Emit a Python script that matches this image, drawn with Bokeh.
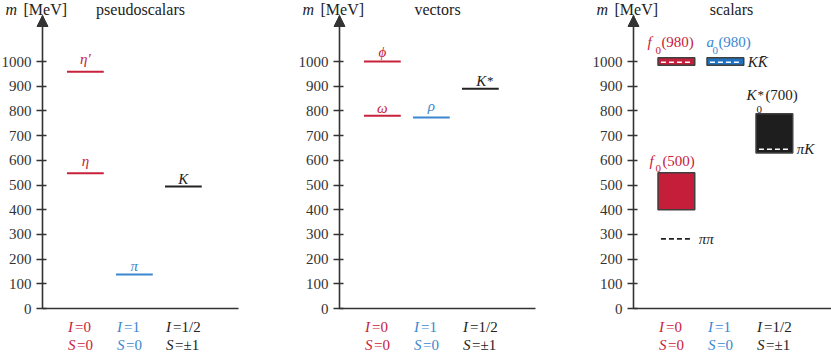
from bokeh.plotting import figure
from bokeh.models import Range1d, FixedTicker, Label, Arrow, NormalHead, LinearAxis
from bokeh.embed import file_html
from bokeh.resources import INLINE

# ---------------- data ----------------
cat_x = [0.875, 1.875, 2.875]          # columns: I=0, I=1, I=1/2
I_vals = ["0", "1", "1/2"]
S_vals = ["0", "0", "±1"]
y_ticks = [0, 100, 200, 300, 400, 500, 600, 700, 800, 900, 1000]
panel_titles = ["pseudoscalars", "vectors", "scalars"]

ps_names = ["η′", "η", "π", "K"]
ps_mass = [958, 548, 138, 494]
ps_cat = [0, 0, 1, 2]

v_names = ["ϕ", "ω", "ρ", "K"]
v_sup = ["", "", "", "*"]
v_mass = [1000, 780, 773, 890]
v_cat = [0, 0, 1, 2]

s_names = ["f", "f", "a", "K"]
s_sub = ["0", "0", "0", "0"]
s_sup = ["", "", "", "*"]
s_paren = ["(500)", "(980)", "(980)", "(700)"]
s_low = [400, 985, 985, 630]
s_high = [550, 1015, 1015, 788]
s_cat = [0, 0, 1, 2]

th_names = ["ππ", "KK̄", "πK"]
th_mass = [282, 997, 645]
th_cats = [[0], [0, 1], [2]]
th_inside = [False, True, True]

# ---------------- layout / style ----------------
W, H = 831, 353
PXM = 0.247           # pixels per MeV
Y0 = 308              # pixel row of m = 0
PXU = 49              # pixels per column unit
PANEL_X = [42 / PXU, 339 / PXU, 633 / PXU]   # y-axis positions (column units)
X_LEN = [4.0, 4.0, (W - 633) / PXU]
Y_TOP = (Y0 - 15) / PXM
HALF = 0.375
MID = 0.32            # em-middle above the baseline, in em

FONT = "Liberation Serif"
RED, BLUE, DARK = "#c8213b", "#3a88cf", "#222222"
AXIS_C = "#333333"
cat_colors = [RED, BLUE, DARK]
box_colors = ["#c41e3a", "#1f72c0", "#1e1e1e"]

# baseline height (px) of a level label above its line
LEVEL_UP = {"η′": 8, "η": 7, "π": 4, "K": 2.5, "ϕ": 4.5, "ω": 3, "ρ": 7}
# scalar label layout: (dx main, up main, dx sub, up sub, dx paren)
SC_POS = [(-27, 7, -21, 1, -14), (-29, 11, -21, 4, -15),
          (-19, 11, -13, 4, -7), (-28, 14, -18, 1, -9)]

p = figure(width=W, height=H, x_range=Range1d(0, W / PXU),
           y_range=Range1d(-(H - Y0) / PXM, Y0 / PXM),
           output_backend="svg", toolbar_location=None,
           x_axis_location=None, y_axis_location=None,
           min_border=0, min_border_left=0, min_border_right=0,
           min_border_top=0, min_border_bottom=0)
p.outline_line_color = None
p.grid.visible = False
p.background_fill_color = "white"
p.border_fill_color = "white"


def txt(x, y, text, color, dx=0, up=0, size=15, style="normal",
        align="left", baseline="alphabetic"):
    # "up" is the baseline height in px; text is anchored at its middle
    if baseline == "alphabetic":
        up = up + MID * size
    p.add_layout(Label(x=x, y=y + up / PXM, x_offset=dx, text=text,
                       text_color=color, text_font=FONT,
                       text_font_size=f"{size}px", text_font_style=style,
                       text_align=align, text_baseline="middle"))


def axes(ax, x_len, title):
    ya = LinearAxis(fixed_location=ax, bounds=(0, Y_TOP),
                    ticker=FixedTicker(ticks=y_ticks))
    ya.axis_line_color = AXIS_C
    ya.axis_line_width = 1.6
    ya.major_tick_line_color = AXIS_C
    ya.major_tick_line_width = 1.6
    ya.major_tick_in = 4
    ya.major_tick_out = 6
    ya.minor_tick_line_color = None
    ya.major_label_text_font = FONT
    ya.major_label_text_font_size = "15px"
    ya.major_label_text_color = AXIS_C
    ya.major_label_standoff = 5
    p.add_layout(ya, "left")

    xa = LinearAxis(fixed_location=0, bounds=(ax, ax + x_len),
                    ticker=FixedTicker(ticks=[]))
    xa.axis_line_color = AXIS_C
    xa.axis_line_width = 1.6
    xa.major_tick_line_color = None
    xa.minor_tick_line_color = None
    xa.major_label_text_font_size = "0px"
    p.add_layout(xa, "below")

    p.add_layout(Arrow(end=NormalHead(size=11, fill_color=AXIS_C,
                                      line_color=AXIS_C, line_width=1),
                       x_start=ax, y_start=Y_TOP - 30, x_end=ax, y_end=Y_TOP,
                       line_color=AXIS_C, line_width=1.6))

    top = (Y0 - 9) / PXM
    txt(ax, top, "m", DARK, dx=-37, size=16, style="italic", baseline="middle")
    txt(ax, top, "[MeV]", DARK, dx=-19, size=16, baseline="middle")
    txt(ax + 2.0, top, title, DARK, size=16, align="center", baseline="middle")

    row_i = -(326.5 - Y0) / PXM
    row_s = -(344.5 - Y0) / PXM
    for c, col, iv, sv in zip(cat_x, cat_colors, I_vals, S_vals):
        x = ax + c - HALF
        txt(x, row_i, "I", col, dx=1, style="italic", baseline="middle")
        txt(x, row_i, "=" + iv, col, dx=8, baseline="middle")
        txt(x, row_s, "S", col, dx=1, style="italic", baseline="middle")
        txt(x, row_s, "=" + sv, col, dx=10, baseline="middle")


def levels(ax, names, masses, cats, sups=None):
    xs = [ax + cat_x[c] for c in cats]
    cols = [cat_colors[c] for c in cats]
    p.segment(x0=[x - HALF for x in xs], x1=[x + HALF for x in xs],
              y0=masses, y1=masses, line_color=cols, line_width=2)
    for i, (n, m, x, col) in enumerate(zip(names, masses, xs, cols)):
        up = LEVEL_UP.get(n, 3)
        sup = sups[i] if sups else ""
        if sup:
            txt(x, m, n, col, dx=1, up=up, style="italic", align="center")
            txt(x, m, sup, col, dx=6.5, up=up + 2, size=13)
        else:
            txt(x, m, n, col, up=up, style="italic", align="center")


for ax, xl, t in zip(PANEL_X, X_LEN, panel_titles):
    axes(ax, xl, t)

levels(PANEL_X[0], ps_names, ps_mass, ps_cat)
levels(PANEL_X[1], v_names, v_mass, v_cat, v_sup)

# scalars: mass bands
ax3 = PANEL_X[2]
bx = [ax3 + cat_x[c] for c in s_cat]
p.quad(left=[x - HALF for x in bx], right=[x + HALF for x in bx],
       bottom=s_low, top=s_high,
       fill_color=[box_colors[c] for c in s_cat],
       line_color="#404040", line_width=1.5)
for k, (n, sb, sup, par, top, x, c) in enumerate(
        zip(s_names, s_sub, s_sup, s_paren, s_high, bx, s_cat)):
    col = cat_colors[c]
    dxm, upm, dxs, ups, dxp = SC_POS[k]
    txt(x, top, n, col, dx=dxm, up=upm, style="italic")
    txt(x, top, sb, col, dx=dxs, up=ups, size=11)
    if sup:
        txt(x, top, sup, col, dx=dxs + 1, up=upm + 1, size=13)
    txt(x, top, par, col, dx=dxp, up=upm)

# thresholds
for n, m, cs, inside in zip(th_names, th_mass, th_cats, th_inside):
    xs = [ax3 + cat_x[c] for c in cs]
    p.segment(x0=[x - HALF + 0.06 for x in xs], x1=[x + HALF - 0.06 for x in xs],
              y0=[m] * len(xs), y1=[m] * len(xs),
              line_color="white" if inside else DARK,
              line_width=1.6, line_dash="5 3")
    txt(xs[-1] + HALF, m, n, DARK, dx=4, style="italic", baseline="middle")

open("out.html", "w").write(file_html(p, INLINE))
